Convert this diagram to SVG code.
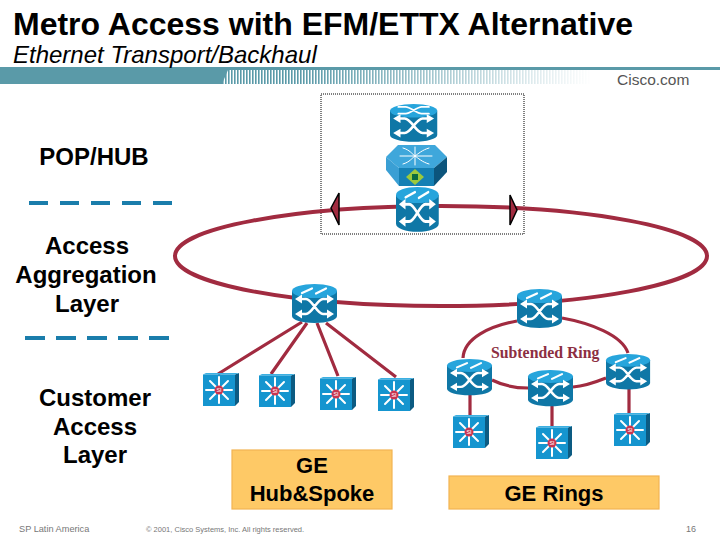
<svg xmlns="http://www.w3.org/2000/svg" xmlns:xlink="http://www.w3.org/1999/xlink" width="720" height="540" viewBox="0 0 720 540">
<style>
text{font-family:"Liberation Sans",Arial,sans-serif;fill:#000}
.lbl{font-size:24px;font-weight:bold;text-anchor:middle}
.box{font-size:22px;font-weight:bold;text-anchor:middle}
.foot{fill:#777}
.ring{fill:none;stroke:#a12b40;stroke-width:4}
.link{fill:none;stroke:#a12b40;stroke-width:3.2}
.sep{fill:none;stroke:#1a7dab;stroke-width:4}
.wl{fill:none;stroke:#fff;stroke-width:2.6;stroke-linecap:round}
.wf{fill:#fff}
.oc{fill:#fec966;stroke:#f2b452;stroke-width:1.2}
</style>
<defs>
<linearGradient id="fade" x1="0" x2="1" y1="0" y2="0"><stop offset="0" stop-color="#fff" stop-opacity="0"/><stop offset="1" stop-color="#fff" stop-opacity="1"/></linearGradient>
<pattern id="bars" width="3" height="14" patternUnits="userSpaceOnUse"><rect width="1.6" height="14" fill="#5a9aa8"/></pattern>
<g id="xarrows">
<path class="wl" d="M7 15H14C20 15 25 30 31 30H38M7 30H14C20 30 25 15 31 15H38"/>
<path class="wf" d="M3 15L10 10.500V19.500ZM42 15L35 10.500V19.500ZM3 30L10 25.500V34.500ZM42 30L35 25.500V34.500Z"/>
</g>
<g id="router">
<path d="M0 7V32C0 36 10 39 22.5 39S45 36 45 32V7Z" fill="#0f77a6"/>
<ellipse cx="22.5" cy="7" rx="22.5" ry="7" fill="#27a5dc"/>
<path class="wl" style="stroke-width:2.200" d="M10 9L20 4.500M24 9.500L34 4.500"/>
<use xlink:href="#xarrows" href="#xarrows"/>
</g>
<g id="router-top">
<path d="M0 7V32C0 36 10 39 22.5 39S45 36 45 32V7Z" fill="#0f77a6"/>
<ellipse cx="22.500" cy="7" rx="22.5" ry="7" fill="#27a5dc"/>
<path class="wl" style="stroke-width:1.800" d="M8 3H15C19 3 26 10 30 10H37M8 10H15C19 10 26 3 30 3H37"/>
<use xlink:href="#xarrows" href="#xarrows"/>
</g>
<g id="switch">
<path d="M32 1.500L36 0V29L32 33Z" fill="#0c5b82"/>
<path d="M0 1.500L3 0H36L32 1.500Z" fill="#3cb0e2"/>
<rect y="1.500" width="32" height="31.500" fill="#1595cf"/>
<path class="wl" style="stroke-width:2" d="M3 17H29M16 4V30M7 8L25 26M25 8L7 26"/>
<circle cx="16" cy="17" r="4.500" fill="#c83550"/>
<text x="16" y="19" text-anchor="middle" style="font-size:5.500px;fill:#fff">SI</text>
</g>
</defs>

<g id="header">
<rect x="0" y="67" width="720" height="3" fill="#5a9aa8"/>
<path d="M0 70H228L222 84H0Z" fill="#5a9aa8"/>
<rect x="222" y="70" width="368" height="14" fill="url(#bars)"/>
<rect x="300" y="70" width="292" height="14" fill="url(#fade)"/>
<text x="617" y="85" style="font-size:15.500px;fill:#555">Cisco.com</text>
<text x="13" y="35" style="font-size:32px;font-weight:bold">Metro Access with EFM/ETTX Alternative</text>
<text x="13" y="63" style="font-size:24px;font-style:italic">Ethernet Transport/Backhaul</text>
</g>

<rect id="pop-frame" x="321" y="94" width="203" height="140" fill="none" stroke="#000" stroke-width="1" stroke-dasharray="1 1"/>

<g id="connectors">
<ellipse class="ring" cx="441" cy="256" rx="266" ry="50"/>
<path class="link" d="M302 322L218 374M307 323L271 374M317 323L338 376M326 323L396 377"/>
<path class="link" d="M517 321C490 326 464 338 463 358M562 318C590 323 622 335 628 353M492 380C504 386 516 388 528 388M573 387C585 386 596 382 606 378"/>
<path class="link" d="M470 393V416M552 405V427M629 389V413"/>
<path d="M339 193L331 208L339 225Z" fill="#a12b40" stroke="#000" stroke-width="1.500"/>
<path d="M510 195L517 210L510 225Z" fill="#a12b40" stroke="#000" stroke-width="1.500"/>
</g>

<g id="separators">
<path class="sep" stroke-dasharray="19 12" d="M29 203H172"/>
<path class="sep" stroke-dasharray="20 11" d="M25 338H169"/>
</g>

<g id="pop-router-top"><use xlink:href="#router-top" href="#router-top" transform="translate(390 104) scale(1.05 .97)"/></g>
<g id="pop-hub">
<path d="M386 157L398 145H435L447 157L434 168H399Z" fill="#3fa7db"/>
<path d="M386 157L399 168V186L386 170Z" fill="#3a9fd4"/>
<rect x="399" y="168" width="35" height="18" fill="#1580b4"/>
<path d="M434 168L447 157V172L434 186Z" fill="#0c557c"/>
<path class="wl" style="stroke-width:1" d="M400 156H432M415 147L415 165M403 148C410 150 412 154 415 156C418 158 422 162 429 164M429 148C422 150 418 154 415 156C412 158 410 162 403 164"/>
<path d="M415 169L424 177L415 185L406 177Z" fill="#9cc93c"/>
<rect x="412" y="174" width="6" height="6" fill="#0a6b40"/>
</g>
<g id="pop-router-bottom"><use xlink:href="#router" href="#router" transform="translate(396 187) scale(.95 1.150)"/></g>

<g id="agg-router-1"><use xlink:href="#router" href="#router" transform="translate(292 284)"/></g>
<g id="agg-router-2"><use xlink:href="#router" href="#router" transform="translate(517 289)"/></g>
<g id="ring-router-1"><use xlink:href="#router" href="#router" transform="translate(447 359) scale(1 .93)"/></g>
<g id="ring-router-2"><use xlink:href="#router" href="#router" transform="translate(528 370) scale(1 .93)"/></g>
<g id="ring-router-3"><use xlink:href="#router" href="#router" transform="translate(606 354) scale(.98 .91)"/></g>

<g id="hub-switch-1"><use xlink:href="#switch" href="#switch" transform="translate(203 373)"/></g>
<g id="hub-switch-2"><use xlink:href="#switch" href="#switch" transform="translate(259 374)"/></g>
<g id="hub-switch-3"><use xlink:href="#switch" href="#switch" transform="translate(320 377)"/></g>
<g id="hub-switch-4"><use xlink:href="#switch" href="#switch" transform="translate(378 378)"/></g>
<g id="ring-switch-1"><use xlink:href="#switch" href="#switch" transform="translate(453 415)"/></g>
<g id="ring-switch-2"><use xlink:href="#switch" href="#switch" transform="translate(536 426)"/></g>
<g id="ring-switch-3"><use xlink:href="#switch" href="#switch" transform="translate(614 413)"/></g>

<g id="labels">
<text class="lbl" x="94" y="165">POP/HUB</text>
<text class="lbl" x="87" y="254">Access</text>
<text class="lbl" x="86" y="283">Aggregation</text>
<text class="lbl" x="87" y="312">Layer</text>
<text class="lbl" x="95" y="406">Customer</text>
<text class="lbl" x="95" y="435">Access</text>
<text class="lbl" x="95" y="463">Layer</text>
<text x="491" y="358" style="font-family:'Liberation Serif',serif;font-size:15.800px;font-weight:bold;fill:#8c2f42">Subtended Ring</text>
</g>

<g id="box-hub">
<rect class="oc" x="232" y="450" width="160" height="59"/>
<text class="box" x="312" y="473">GE</text>
<text class="box" x="312" y="501">Hub&amp;Spoke</text>
</g>
<g id="box-rings">
<rect class="oc" x="449" y="476" width="210" height="33"/>
<text class="box" x="554" y="501">GE Rings</text>
</g>

<g id="footer">
<text class="foot" x="19" y="532" style="font-size:9.200px">SP Latin America</text>
<text class="foot" x="146" y="532" style="font-size:7.500px">© 2001, Cisco Systems, Inc. All rights reserved.</text>
<text class="foot" x="686" y="532" style="font-size:9px">16</text>
</g>
</svg>
